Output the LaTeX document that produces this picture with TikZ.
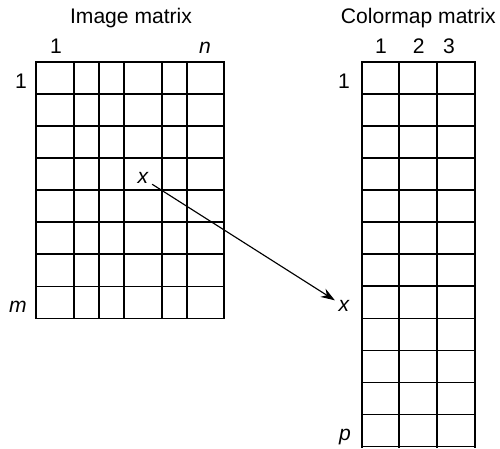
\documentclass[tikz,border=0pt]{standalone}
\usepackage{fontspec}
\setmainfont{Liberation Sans}
\usetikzlibrary{arrows.meta, positioning, calc}

\begin{document}
\begin{tikzpicture}[x=0.02cm, y=-0.02cm]
        \tikzstyle{grid} = [line width=0.95pt, line cap=rect]
        \tikzstyle{lbl} = [font=\fontsize{12}{14}\selectfont, inner sep=0pt, anchor=base]
        \tikzstyle{var} = [font=\fontsize{12}{14}\selectfont\itshape, inner sep=2pt, anchor=base]
        \tikzstyle{arrow} = [line width=0.65pt, -{Stealth[length=8pt, width=5.5pt]}]
        \useasboundingbox (0,0) rectangle (500,449);

        % image matrix
        \foreach \x in {35.7, 73.7, 99, 124, 162.3, 186.7, 223.7}
            \draw [grid] (\x,61.7) -- (\x,318.5);
        \foreach \i in {0,...,8}
            \draw [grid] (35.7,61.7+\i*32.1) -- (223.7,61.7+\i*32.1);

        \node (imgtitle) [lbl] at (131,24) {Image matrix};
        \node (imgcol1) [lbl] at (56,53.3) {1};
        \node (imgcoln) [var] at (205,53.3) {n};
        \node (imgrow1) [lbl] at (21,88.3) {1};
        \node (imgrowm) [var] at (18,312.3) {m};
        \node (xin) [var] at (143,184) {x};

        % colormap matrix
        \foreach \x in {361.7, 399, 436.7, 474.7}
            \draw [grid] (\x,61.7) -- (\x,446.7);
        \foreach \i in {0,...,12}
            \draw [grid] (361.7,61.7+\i*32.08) -- (474.7,61.7+\i*32.08);

        \node (maptitle) [lbl] at (418.3,24) {Colormap matrix};
        \node (mapcol1) [lbl] at (381,53.3) {1};
        \node (mapcol2) [lbl] at (418.7,53.3) {2};
        \node (mapcol3) [lbl] at (449,53.3) {3};
        \node (maprow1) [lbl] at (344,88.3) {1};
        \node (maprowp) [var] at (345,440) {p};
        \node (xout) [var] at (344,311.7) {x};

        \draw [arrow] (xin) -- (xout);
\end{tikzpicture}
\end{document}
